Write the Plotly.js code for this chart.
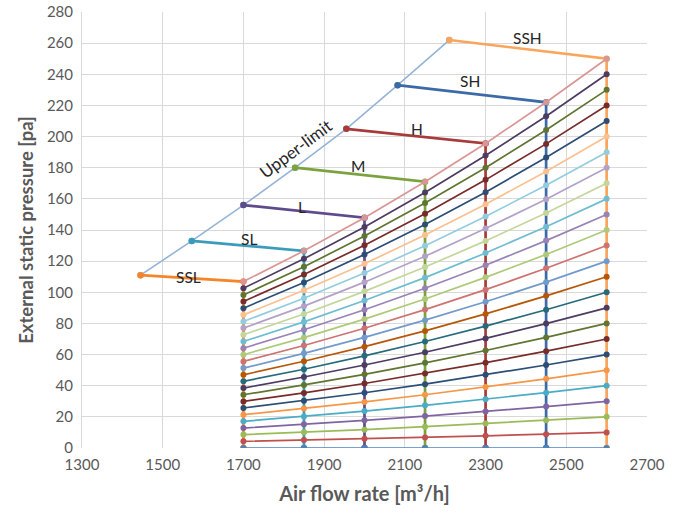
<!DOCTYPE html>
<html>
<head>
<meta charset="utf-8">
<script src="https://cdn.plot.ly/plotly-3.0.1.min.js"></script>
<style>html,body{margin:0;padding:0;background:#fff;}#chart{width:683px;height:517px;}</style>
</head>
<body>
<div id="chart"></div>
<script>
// ---- data ----
const flowPoints = [1700, 1850, 2000, 2150, 2300, 2450, 2600];

// system curves (pressure at each flow point), labelled by pressure at 2600
const sc0   = [0, 0, 0, 0, 0, 0, 0];
const sc10  = [4.3, 5.1, 5.9, 6.8, 7.8, 8.9, 10];
const sc20  = [8.6, 10.1, 11.8, 13.7, 15.7, 17.8, 20];
const sc30  = [12.8, 15.2, 17.8, 20.5, 23.5, 26.6, 30];
const sc40  = [17.1, 20.3, 23.7, 27.4, 31.3, 35.5, 40];
const sc50  = [21.4, 25.3, 29.6, 34.2, 39.1, 44.4, 50];
const sc60  = [25.7, 30.4, 35.5, 41.0, 47.0, 53.3, 60];
const sc70  = [29.9, 35.4, 41.4, 47.9, 54.8, 62.2, 70];
const sc80  = [34.2, 40.5, 47.3, 54.7, 62.6, 71.0, 80];
const sc90  = [38.5, 45.6, 53.3, 61.5, 70.4, 79.9, 90];
const sc100 = [42.8, 50.6, 59.2, 68.4, 78.3, 88.8, 100];
const sc110 = [47.0, 55.7, 65.1, 75.2, 86.1, 97.7, 110];
const sc120 = [51.3, 60.8, 71.0, 82.1, 93.9, 106.5, 120];
const sc130 = [55.6, 65.8, 76.9, 88.9, 101.7, 115.4, 130];
const sc140 = [59.9, 70.9, 82.8, 95.7, 109.6, 124.3, 140];
const sc150 = [64.1, 75.9, 88.8, 102.6, 117.4, 133.2, 150];
const sc160 = [68.4, 81.0, 94.7, 109.4, 125.2, 142.1, 160];
const sc170 = [72.7, 86.1, 100.6, 116.2, 133.0, 150.9, 170];
const sc180 = [77.0, 91.1, 106.5, 123.1, 140.9, 159.8, 180];
const sc190 = [81.2, 96.2, 112.4, 129.9, 148.7, 168.7, 190];
const sc200 = [85.5, 101.3, 118.3, 136.8, 156.5, 177.6, 200];
const sc210 = [89.8, 106.3, 124.3, 143.6, 164.3, 186.5, 210];
const sc220 = [94.1, 111.4, 130.2, 150.4, 172.2, 195.3, 220];
const sc230 = [98.3, 116.4, 136.1, 157.3, 180.0, 204.2, 230];
const sc240 = [102.6, 121.5, 142.0, 164.1, 187.8, 213.1, 240];
const sc250 = [106.9, 126.6, 147.9, 171.0, 195.6, 222.0, 250];

// upper-limit curve
const upperX = [1445, 1572, 1700, 1828, 1955, 2082, 2210];
const upperY = [111, 133, 156, 180, 205, 233, 262];

// fan speed steps: from upper limit to the top system curve, then down to 0
const fanNames = ['SSL', 'SL', 'L', 'M', 'H', 'SH', 'SSH'];
const fanEndY = [106.9, 126.6, 147.9, 171.0, 195.6, 222.0, 250];

// ---- styles ----
const curves = [sc0, sc10, sc20, sc30, sc40, sc50, sc60, sc70, sc80, sc90, sc100, sc110, sc120,
  sc130, sc140, sc150, sc160, sc170, sc180, sc190, sc200, sc210, sc220, sc230, sc240, sc250];
const curveColors = ['#4F81BD', '#C0504D', '#9BBB59', '#8064A2', '#4BACC6', '#F79646',
  '#2C4D75', '#772C2A', '#5F7530', '#4D3B62', '#276A7C', '#B65708',
  '#729ACA', '#CD7371', '#AFC97A', '#9983B5', '#6FBDD1', '#C3D69B',
  '#B3A2C7', '#93CDDD', '#FAC090', '#2C4D75', '#772C2A', '#5F7530', '#4D3B62', '#D99694'];
const fanColors = ['#F5852A', '#3A9CBA', '#5F4A8B', '#7AA23F', '#A73B39', '#3C6AA6', '#F9A65C'];
const upperColor = '#95B3D7';

const traces = [];
// upper-limit line
traces.push({x: upperX, y: upperY, mode: 'lines+markers', type: 'scatter',
  line: {color: upperColor, width: 1.6}, marker: {color: upperColor, size: 6.5},
  hoverinfo: 'skip'});
// fan lines
fanNames.forEach((n, i) => {
  traces.push({x: [upperX[i], flowPoints[i], flowPoints[i]], y: [upperY[i], fanEndY[i], 0],
    mode: 'lines+markers', type: 'scatter', name: n,
    line: {color: fanColors[i], width: 2.7}, marker: {color: fanColors[i], size: 6.5},
    hoverinfo: 'skip'});
});
// system curves
curves.forEach((c, i) => {
  traces.push({x: flowPoints, y: c, mode: 'lines+markers', type: 'scatter',
    line: {color: curveColors[i], width: 1.7}, marker: {color: curveColors[i], size: 6},
    hoverinfo: 'skip'});
});

const labelPos = [[1565, 110], [1715, 134], [1844, 155], [1984, 181], [2129, 205], [2261, 236], [2405, 263]];
const annotations = fanNames.map((n, i) => ({
  x: labelPos[i][0], y: labelPos[i][1], xref: 'x', yref: 'y', text: n, showarrow: false,
  font: {family: 'Lato, sans-serif', size: 15.5, color: '#262626'}
}));
annotations.push({x: 1830, y: 192.5, xref: 'x', yref: 'y', text: 'Upper-limit', showarrow: false,
  textangle: -36.7, font: {family: 'Lato, sans-serif', size: 17, color: '#262626'}});

const layout = {
  width: 683, height: 517,
  margin: {l: 82, r: 36, t: 12, b: 69},
  paper_bgcolor: '#ffffff', plot_bgcolor: '#ffffff',
  showlegend: false,
  font: {family: 'Lato, sans-serif', color: '#595959'},
  xaxis: {
    range: [1300, 2700], dtick: 200, tick0: 1300, showgrid: true, gridcolor: '#D9D9D9', gridwidth: 1,
    zeroline: false, showline: false, ticks: '', tickfont: {size: 15, color: '#595959'},
    ticklabelstandoff: 6,
    title: {text: 'Air flow rate [m\u00B3/h]', font: {size: 20, color: '#595959', weight: 'bold'}, standoff: 14}
  },
  yaxis: {
    range: [0, 280], dtick: 20, tick0: 0, showgrid: true, gridcolor: '#D9D9D9', gridwidth: 1,
    zeroline: false, showline: true, linecolor: '#D9D9D9', ticks: '', tickfont: {size: 15, color: '#595959'},
    ticklabelstandoff: 5,
    title: {text: 'External static pressure [pa]', font: {size: 18.5, color: '#595959', weight: 'bold'}, standoff: 8}
  },
  annotations: annotations
};

Plotly.newPlot('chart', traces, layout, {displayModeBar: false, staticPlot: true});
</script>
</body>
</html>
